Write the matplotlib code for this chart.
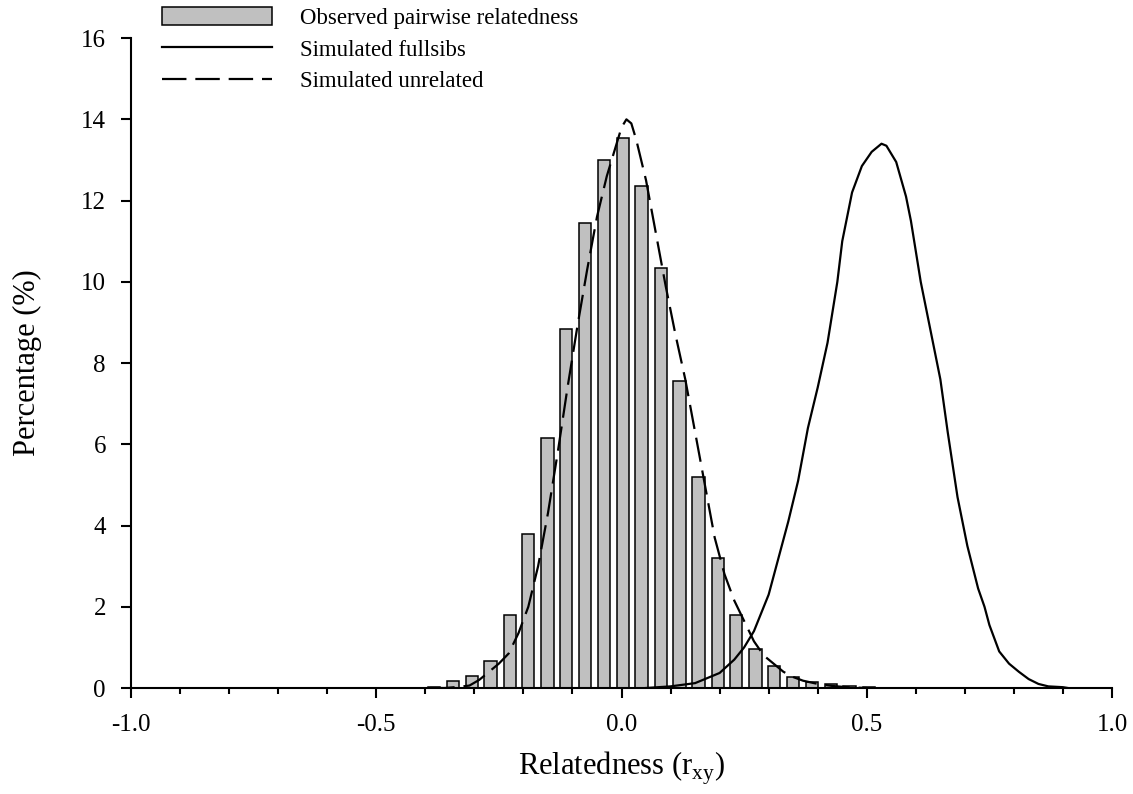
import matplotlib
matplotlib.use("Agg")
import matplotlib.pyplot as plt
from matplotlib.ticker import MultipleLocator

plt.rcParams['font.family'] = ['Liberation Serif', 'DejaVu Serif']
plt.rcParams['mathtext.fontset'] = 'custom'
plt.rcParams['mathtext.rm'] = 'Liberation Serif'

# observed pairwise relatedness (bar centres and percentages)
bin_centers = [-0.382, -0.344, -0.305, -0.267, -0.228, -0.190, -0.151, -0.113,
               -0.074, -0.036, 0.003, 0.041, 0.080, 0.118, 0.157, 0.196,
               0.234, 0.273, 0.311, 0.350, 0.388, 0.427, 0.465, 0.504]
observed = [0.03, 0.17, 0.30, 0.67, 1.80, 3.80, 6.15, 8.85,
            11.45, 13.00, 13.55, 12.35, 10.35, 7.55, 5.20, 3.20,
            1.80, 0.96, 0.54, 0.28, 0.15, 0.10, 0.05, 0.03]

# simulated full sibs
sib_x = [0.05, 0.10, 0.15, 0.20, 0.23, 0.25, 0.27, 0.29, 0.30, 0.32, 0.34,
         0.36, 0.38, 0.40, 0.42, 0.44, 0.45, 0.47, 0.49, 0.51, 0.53, 0.54,
         0.56, 0.58, 0.59, 0.61, 0.63, 0.65, 0.665, 0.685, 0.705, 0.727,
         0.74, 0.75, 0.77, 0.79, 0.81, 0.83, 0.85, 0.87, 0.90, 0.91]
sib_y = [0.0, 0.04, 0.12, 0.37, 0.7, 1.0, 1.4, 2.0, 2.3, 3.2, 4.1,
         5.1, 6.4, 7.4, 8.5, 10.0, 11.0, 12.2, 12.85, 13.2, 13.4, 13.35,
         12.95, 12.1, 11.5, 10.0, 8.8, 7.6, 6.3, 4.7, 3.5, 2.45,
         2.0, 1.55, 0.9, 0.6, 0.4, 0.22, 0.1, 0.04, 0.02, 0.0]

# simulated unrelated
unrel_x = [-0.39, -0.36, -0.33, -0.31, -0.29, -0.27, -0.25, -0.23, -0.21,
           -0.19, -0.17, -0.15, -0.13, -0.11, -0.09, -0.07, -0.05, -0.03,
           -0.01, 0.00, 0.01, 0.02, 0.03, 0.05, 0.07, 0.09, 0.11, 0.13,
           0.15, 0.17, 0.19, 0.21, 0.23, 0.25, 0.27, 0.29, 0.31, 0.33,
           0.35, 0.37, 0.40, 0.43, 0.46, 0.50]
unrel_y = [0.0, 0.0, 0.03, 0.06, 0.2, 0.4, 0.6, 0.85, 1.35,
           2.0, 3.0, 4.3, 5.8, 7.4, 8.9, 10.3, 11.6, 12.6,
           13.4, 13.8, 14.0, 13.9, 13.5, 12.5, 11.2, 9.9, 8.7, 7.6,
           6.3, 5.0, 3.7, 2.8, 2.15, 1.65, 1.15, 0.8, 0.6, 0.4,
           0.27, 0.18, 0.1, 0.05, 0.02, 0.0]

fig = plt.figure(figsize=(11.33, 7.94), dpi=100)
ax = fig.add_axes([0.1156, 0.1335, 0.8659, 0.8185])

bars = ax.bar(bin_centers, observed, width=0.025, color='#c0c0c0',
              edgecolor='black', linewidth=1.1, zorder=2)
sib_line, = ax.plot(sib_x, sib_y, color='black', lw=1.6, zorder=3)
unrel_line, = ax.plot(unrel_x, unrel_y, color='black', lw=1.6, dashes=(11, 4),
                      zorder=3)

ax.set_xlim(-1.0, 1.0)
ax.set_ylim(0, 16)
ax.xaxis.set_minor_locator(MultipleLocator(0.1))
ax.yaxis.set_major_locator(MultipleLocator(2))
ax.set_xticks([-1.0, -0.5, 0.0, 0.5, 1.0])
ax.set_xticklabels(['-1.0', '-0.5', '0.0', '0.5', '1.0'])

for s in ['top', 'right']:
    ax.spines[s].set_visible(False)
for s in ['left', 'bottom']:
    ax.spines[s].set_linewidth(1.5)

ax.tick_params(axis='both', which='major', direction='out', length=7, width=1.5,
               labelsize=18)
ax.tick_params(axis='x', which='major', pad=12)
ax.tick_params(axis='y', which='major', pad=11)
ax.tick_params(axis='x', which='minor', direction='out', length=4.5, width=1.5)

ax.set_xlabel(r'Relatedness (r$_{\rm xy}$)', fontsize=22, labelpad=10)
ax.set_ylabel('Percentage (%)', fontsize=22, labelpad=28)

ax.legend([bars, sib_line, unrel_line],
          ['Observed pairwise relatedness', 'Simulated fullsibs', 'Simulated unrelated'],
          loc='upper left', bbox_to_anchor=(162 / 1133, 1 - 7 / 794),
          bbox_transform=fig.transFigure, frameon=False, fontsize=16.5,
          borderpad=0, borderaxespad=0, handlelength=4.8,
          handleheight=0.85, handletextpad=1.2, labelspacing=0.42)

fig.savefig('out.png', dpi=100)
